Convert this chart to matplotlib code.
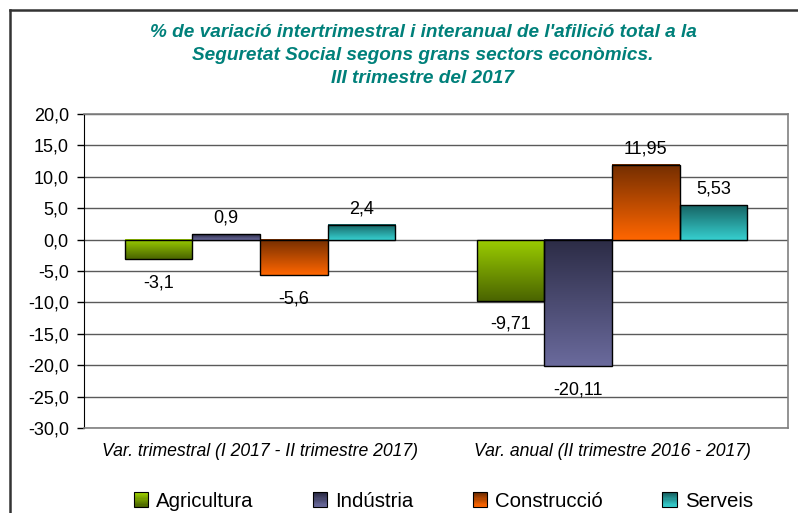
import numpy as np
import matplotlib.pyplot as plt
from matplotlib.patches import Rectangle
from matplotlib.lines import Line2D
from matplotlib.legend_handler import HandlerBase
from matplotlib.colors import to_rgb

# Data
categories = ['Var. trimestral (I 2017 - II trimestre 2017)',
              'Var. anual (II trimestre 2016 - 2017)']
series = ['Agricultura', 'Indústria', 'Construcció', 'Serveis']
values = {
    'Agricultura': [-3.1, -9.71],
    'Indústria': [0.9, -20.11],
    'Construcció': [-5.6, 11.95],
    'Serveis': [2.4, 5.53],
}
labels = {
    'Agricultura': ['-3,1', '-9,71'],
    'Indústria': ['0,9', '-20,11'],
    'Construcció': ['-5,6', '11,95'],
    'Serveis': ['2,4', '5,53'],
}
# gradient colours (top, bottom)
colors = {
    'Agricultura': ('#9acc00', '#4a6400'),
    'Indústria': ('#2c2c46', '#6a6a9c'),
    'Construcció': ('#742e00', '#ff6600'),
    'Serveis': ('#176464', '#36cfcf'),
}
yticks = np.arange(-30, 21, 5)

plt.rcParams['font.family'] = ['Liberation Sans', 'DejaVu Sans']


def gradient(top, bottom, n=64):
    t = np.linspace(0, 1, n)[:, None]
    c0 = np.array(to_rgb(top))
    c1 = np.array(to_rgb(bottom))
    return (c0 * (1 - t) + c1 * t)[:, None, :]


class GradHandler(HandlerBase):
    def __init__(self, top, bottom):
        super().__init__()
        self.top, self.bottom = top, bottom

    def create_artists(self, legend, orig, xd, yd, w, h, fontsize, trans):
        s = h * 1.0
        x0 = xd + w - s
        y0 = yd + (h - s) / 2
        arts = []
        n = 12
        g = gradient(self.top, self.bottom, n)
        for i in range(n):
            r = Rectangle((x0, y0 + s - (i + 1) * s / n), s, s / n,
                          facecolor=g[i, 0], edgecolor='none', transform=trans)
            arts.append(r)
        arts.append(Rectangle((x0, y0), s, s, facecolor='none',
                              edgecolor='black', lw=0.8, transform=trans))
        return arts


fig = plt.figure(figsize=(7.98, 5.13), dpi=100)
ax = fig.add_axes([0.1053, 0.1657, 0.8822, 0.6121])

x = np.arange(len(categories))
width = 0.192
nser = len(series)
for i, s in enumerate(series):
    offs = (i - (nser - 1) / 2) * width
    for j, v in enumerate(values[s]):
        xc = x[j] + offs
        lo, hi = min(0, v), max(0, v)
        ax.imshow(gradient(*colors[s]), extent=[xc - width / 2, xc + width / 2, lo, hi],
                  aspect='auto', zorder=3, interpolation='bilinear')
        ax.add_patch(Rectangle((xc - width / 2, lo), width, hi - lo, facecolor='none',
                               edgecolor='black', lw=1.0, zorder=4))
        if v >= 0:
            ax.annotate(labels[s][j], (xc, v), xytext=(0, 5), textcoords='offset points',
                        ha='center', va='bottom', fontsize=13)
        else:
            ax.annotate(labels[s][j], (xc, v), xytext=(0, -11), textcoords='offset points',
                        ha='center', va='top', fontsize=13)

ax.set_xlim(-0.5, 1.5)
ax.set_ylim(-30, 20)
ax.set_yticks(yticks)
ax.set_yticklabels([f'{t:.1f}'.replace('.', ',') for t in yticks], fontsize=13)
ax.set_xticks(x)
ax.set_xticklabels(categories, fontsize=12.7, style='italic')
ax.tick_params(axis='x', length=0, pad=11)
ax.tick_params(axis='y', length=5, width=1, color='black', pad=6)
ax.yaxis.grid(True, color='#5a5a5a', lw=1)
ax.set_axisbelow(True)
ax.spines['left'].set_color('black')
for sp in ['right', 'top', 'bottom']:
    ax.spines[sp].set_color('#808080')
    ax.spines[sp].set_linewidth(1.2)

fig.text(0.53, 0.954, "% de variació intertrimestral i interanual de l'afilició total a la\n"
         "Seguretat Social segons grans sectors econòmics.\nIII trimestre del 2017",
         ha='center', va='top', fontsize=13.7, fontweight='bold', style='italic',
         color='#00807a', linespacing=1.46)

handles = [Rectangle((0, 0), 1, 1) for _ in series]
hmap = {h: GradHandler(*colors[s]) for h, s in zip(handles, series)}
fig.legend(handles, series, handler_map=hmap, loc='center', bbox_to_anchor=(0.555, 0.023),
           ncol=4, frameon=False, fontsize=14.7, handlelength=0.75, handletextpad=0.4,
           columnspacing=2.85)

# outer chart border (cropped at right and bottom)
fig.add_artist(Line2D([10 / 798, 10 / 798], [0, 1 - 10 / 513], transform=fig.transFigure,
                      color='#333333', lw=1.8))
fig.add_artist(Line2D([10 / 798, 1], [1 - 10 / 513, 1 - 10 / 513], transform=fig.transFigure,
                      color='#333333', lw=1.8))

fig.savefig('out.png', dpi=100)
